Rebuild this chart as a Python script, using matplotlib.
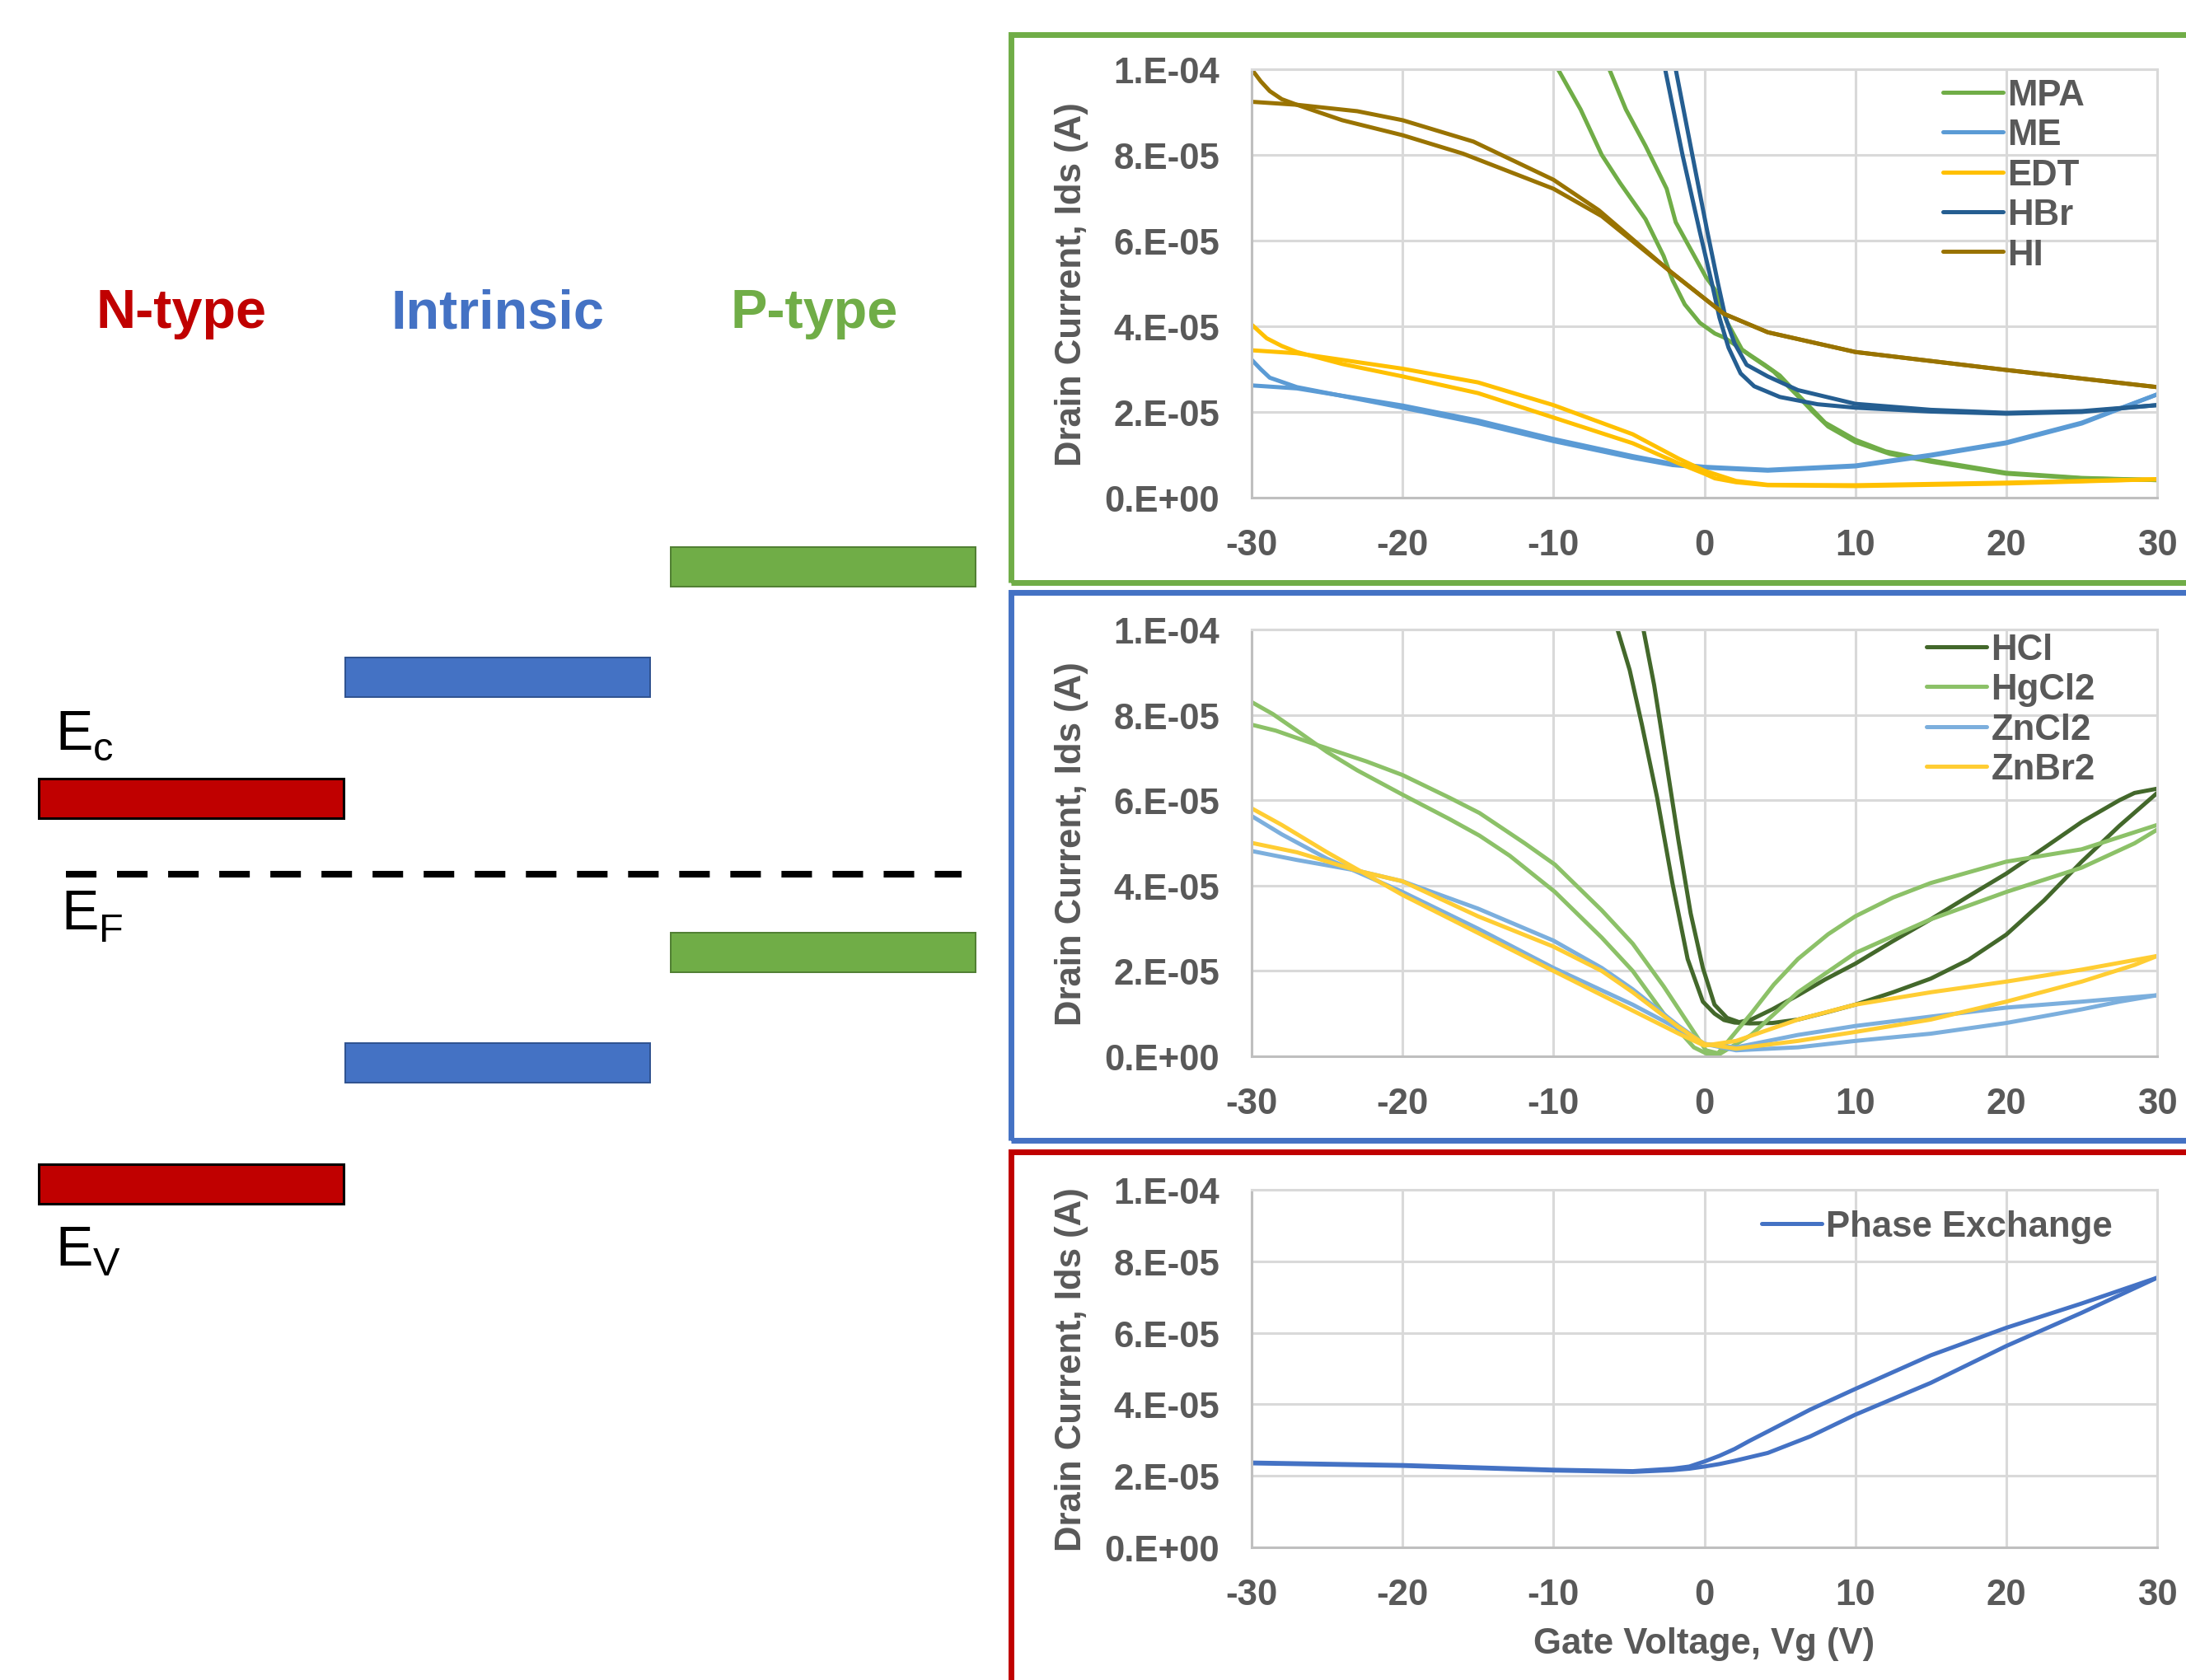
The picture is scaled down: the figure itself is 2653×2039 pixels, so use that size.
import numpy as np
import matplotlib
matplotlib.use("Agg")
import matplotlib.pyplot as plt
from matplotlib.patches import Rectangle
from matplotlib.ticker import FuncFormatter, MultipleLocator

W, H, DPI = 2653, 2040, 100

# ---------------- transfer curves: gate voltage (V) / drain current (uA) ----------------
# Each treatment was swept twice (forward and reverse), giving two branches.

# P-type ligands
MPA_VG_A = [-9.7, -8.2, -6.8, -5.6, -3.9, -2.7, -2.1, -1.3, -0.3, 0.7, 1.3, 2.2, 3.1, 4.6, 6.2, 7.2, 8.2, 10, 12.3, 15, 20, 25, 30]
MPA_ID_A = [100, 90.6, 80.0, 73.5, 65.0, 56.4, 50.7, 45.1, 40.8, 38.3, 37.4, 35.3, 33.0, 29.4, 23.7, 20.0, 16.6, 13.0, 10.2, 8.4, 5.6, 4.5, 4.1]
MPA_VG_B = [-6.3, -5.2, -3.9, -3.1, -2.5, -1.9, -0.9, 0.1, 0.7, 1.5, 2.5, 4.0, 5.0, 6.2, 8.0, 10, 12, 15, 20, 25, 30]
MPA_ID_B = [100, 90.6, 82.1, 76.4, 72.1, 64.3, 57.9, 51.5, 48.6, 41.0, 34.5, 31.0, 28.5, 24.0, 17.5, 13.5, 10.8, 8.7, 5.8, 4.6, 4.1]

ME_VG_A = [-30, -29.4, -28.8, -27, -20, -15, -10, -4.75, -2.1, 0, 4.2, 10, 15, 20, 25, 30]
ME_ID_A = [32.2, 30.0, 28.0, 25.8, 21.0, 17.4, 13.2, 9.3, 7.6, 7.0, 6.3, 7.3, 9.8, 12.7, 17.3, 24.1]
ME_VG_B = [-30, -27, -20, -15, -10, -4.75, -2.1, 0, 4.2, 10, 15, 20, 25, 30]
ME_ID_B = [26.2, 25.5, 21.5, 18.0, 13.7, 9.7, 7.9, 7.2, 6.5, 7.5, 10.0, 12.9, 17.5, 24.1]

EDT_VG_A = [-30, -29, -28, -27, -24, -20, -15, -10, -4.75, -1.7, 0, 0.7, 2.1, 4.2, 10, 20, 30]
EDT_ID_A = [40.4, 37.2, 35.4, 34.0, 31.2, 28.3, 24.4, 18.7, 12.7, 8.0, 5.6, 4.5, 3.6, 2.9, 2.7, 3.3, 4.3]
EDT_VG_B = [-30, -27, -20, -15, -10, -4.75, -1.7, 0, 2.1, 4.2, 10, 20, 30]
EDT_ID_B = [34.4, 33.7, 30.1, 26.9, 21.6, 14.8, 9.1, 6.3, 3.9, 3.0, 2.9, 3.5, 4.3]

HBR_VG_A = [-2.6, -1.45, -0.3, 0.5, 1.0, 1.6, 2.4, 3.3, 5, 7.5, 10, 15, 20, 25, 30]
HBR_ID_A = [100, 80, 62, 50, 42, 35, 29, 26, 23.5, 21.8, 21.0, 20.1, 19.6, 20.0, 21.6]
HBR_VG_B = [-1.9, -0.8, 0.2, 0.9, 1.4, 2.0, 2.8, 4.2, 6.2, 10, 15, 20, 25, 30]
HBR_ID_B = [100, 80, 62, 50, 42, 36, 31, 28.3, 25.1, 21.9, 20.5, 19.8, 20.2, 21.6]

HI_VG_A = [-30, -29.4, -28.8, -28, -27, -24, -20, -16, -10, -6.8, -2.3, 0, 1.3, 4.2, 10, 20, 30]
HI_ID_A = [100, 97.2, 94.9, 93.0, 91.7, 88.1, 84.6, 80.3, 72.1, 65.7, 52.9, 46.5, 42.9, 38.6, 34.0, 29.8, 25.8]
HI_VG_B = [-30, -27, -23, -20, -15.3, -10, -7, -2.3, 0, 1.3, 4.2, 10, 20, 30]
HI_ID_B = [92.4, 91.7, 90.2, 88.1, 83.1, 74.2, 67.1, 52.9, 46.5, 42.9, 38.6, 34.0, 29.8, 25.8]

# Ambipolar (intrinsic) treatments
HCL_VG_A = [-5.76, -4.95, -4.14, -3.13, -2.12, -1.11, -0.1, 0.67, 1.3, 2.0, 3.0, 4.5, 6.2, 8, 10, 12.5, 15, 17.5, 20, 22.5, 25, 27.5, 30]
HCL_ID_A = [100, 90.5, 77.7, 60.6, 40.6, 22.8, 12.8, 10.0, 8.5, 7.9, 7.7, 7.8, 8.6, 10.2, 12.1, 15.0, 18.2, 22.6, 28.5, 36.5, 45.6, 54.0, 61.7]
HCL_VG_B = [-4.04, -3.33, -2.53, -1.72, -0.91, -0.1, 0.67, 1.5, 2.3, 3.1, 4.5, 6.2, 8, 10, 12.5, 15, 17.5, 20, 22.5, 25, 27.5, 28.5, 30]
HCL_ID_B = [100, 87.0, 69.1, 50.6, 33.5, 20.7, 12.1, 9.0, 8.0, 8.6, 11.0, 14.3, 18.0, 21.7, 27.0, 32.1, 37.5, 42.8, 48.8, 54.9, 60.0, 61.7, 62.7]

HGCL2_VG_A = [-30, -28.6, -27, -25, -23, -20, -16.9, -14.9, -12.9, -9.9, -6.8, -4.75, -2.7, -0.7, 0.1, 0.9, 3.1, 6.2, 10, 15, 20, 25, 28.5, 30]
HGCL2_ID_A = [83.0, 80.2, 76.3, 71.3, 67.0, 61.3, 55.6, 51.7, 47.0, 38.5, 27.8, 20.0, 10.0, 2.1, 0.7, 0.3, 5.0, 15.0, 24.2, 32.1, 38.5, 44.2, 49.9, 53.1]
HGCL2_VG_B = [-30, -28.4, -25.8, -22.4, -20, -16.9, -14.9, -11.9, -9.9, -6.8, -4.75, -2.7, -0.7, 0.1, 0.9, 3.1, 4.6, 6.2, 8.2, 10, 12.5, 15, 20, 25, 30]
HGCL2_ID_B = [77.7, 76.3, 73.1, 69.1, 65.9, 60.6, 57.0, 49.9, 44.9, 34.2, 26.4, 16.4, 5.7, 1.4, 0.7, 10.0, 16.8, 22.8, 28.6, 32.8, 37.2, 40.6, 45.6, 48.5, 54.2]

ZNCL2_VG_A = [-30, -28, -25, -20, -15, -10, -4.75, -1.7, 0, 2.1, 6.2, 10, 15, 20, 25, 30]
ZNCL2_ID_A = [56.3, 52.0, 46.3, 38.5, 29.9, 20.7, 12.1, 6.4, 2.9, 2.1, 5.0, 7.1, 9.3, 11.4, 12.8, 14.3]
ZNCL2_VG_B = [-30, -27, -23, -20, -15, -10, -6.8, -4.75, -1.7, 0, 2.1, 6.2, 10, 15, 20, 25, 27.5, 30]
ZNCL2_ID_B = [48.1, 46.0, 43.5, 41.0, 34.6, 27.1, 20.7, 15.7, 7.1, 2.9, 1.4, 2.1, 3.6, 5.3, 7.8, 11.0, 12.8, 14.3]

ZNBR2_VG_A = [-30, -28, -25, -20, -15, -10, -4.75, -1.7, 0, 2.1, 6.2, 10, 15, 20, 25, 30]
ZNBR2_ID_A = [58.1, 54.2, 47.8, 37.8, 28.9, 20.0, 10.7, 5.3, 2.5, 3.6, 8.6, 12.1, 15.0, 17.5, 20.3, 23.5]
ZNBR2_VG_B = [-30, -27, -23, -20, -15, -10, -6.8, -4.75, -1.7, 0, 2.1, 6.2, 10, 15, 20, 25, 28.5, 30]
ZNBR2_ID_B = [50.0, 47.8, 43.5, 41.0, 32.8, 25.7, 20.0, 15.0, 6.8, 2.9, 1.8, 3.6, 5.7, 8.6, 12.8, 17.5, 21.4, 23.5]

# N-type (phase exchange)
PE_VG_A = [-30, -20, -10, -4.75, -2.1, -1, 0, 1, 2, 3, 4.2, 7, 10, 15, 20, 25, 30]
PE_ID_A = [23.7, 23.0, 21.7, 21.3, 22.0, 22.6, 24.0, 25.6, 27.5, 29.8, 32.4, 38.5, 44.3, 53.7, 61.4, 68.2, 75.4]
PE_VG_B = [-30, -20, -10, -4.75, -2.1, -1, 0, 1, 2, 3, 4.2, 7, 10, 15, 20, 25, 30]
PE_ID_B = [23.5, 22.8, 21.5, 21.1, 21.6, 22.0, 22.6, 23.3, 24.2, 25.2, 26.4, 31.0, 37.1, 46.0, 56.3, 65.6, 75.4]

# ---------------- band diagram: levels relative to E_F, in units of the band gap ----------------
DOPING_TYPES = ["N-type", "Intrinsic", "P-type"]
CONDUCTION_LEVELS = [0.196, 0.510, 0.797]
VALENCE_LEVELS = [-0.804, -0.490, -0.203]
FERMI_LEVEL = 0.0

# ---------------- styling ----------------
RED, BLUE, GREEN = "#C00000", "#4472C4", "#70AD47"
TYPE_COLORS = [RED, BLUE, GREEN]
TYPE_EDGES = ["#000000", "#2F528F", "#507E32"]
TEXT_GRAY = "#595959"
GRID_GRAY = "#D9D9D9"
AXIS_GRAY = "#BFBFBF"
LW = 3.6
FONT = "Liberation Sans"
FS = 31.5

plt.rcParams["font.family"] = [FONT, "DejaVu Sans"]
plt.rcParams["axes.unicode_minus"] = False

fig = plt.figure(figsize=(W / DPI, H / DPI), dpi=DPI, facecolor="white")


def fx(px):
    return px / W


def fy(py):
    return 1 - py / H


# ---------------- coloured frames around the three panels ----------------
for top, bottom, col in [(43, 708, GREEN), (720, 1385, BLUE), (1399, 2200, RED)]:
    fig.add_artist(Rectangle((fx(1227), fy(bottom)), fx(1600), (bottom - top) / H,
                             transform=fig.transFigure, fill=False,
                             edgecolor=col, linewidth=5.0, clip_on=False))


def sci_label(v, pos):
    s = f"{v:.0E}"
    return s[0] + "." + s[1:]


def make_panel(top_px, bottom_px):
    ax = fig.add_axes([fx(1519), fy(bottom_px), (2618 - 1519) / W, (bottom_px - top_px) / H])
    ax.set_xlim(-30, 30)
    ax.set_ylim(0, 1e-4)
    ax.xaxis.set_major_locator(MultipleLocator(10))
    ax.yaxis.set_major_locator(MultipleLocator(2e-5))
    ax.yaxis.set_major_formatter(FuncFormatter(sci_label))
    ax.set_axisbelow(True)
    ax.grid(True, color=GRID_GRAY, linewidth=2.2)
    for side in ["top", "right"]:
        ax.spines[side].set_color(GRID_GRAY)
        ax.spines[side].set_linewidth(2.2)
    for side in ["left", "bottom"]:
        ax.spines[side].set_color(AXIS_GRAY)
        ax.spines[side].set_linewidth(2.2)
    ax.tick_params(axis="both", length=0, labelsize=FS, labelcolor=TEXT_GRAY)
    ax.tick_params(axis="y", pad=28)
    ax.tick_params(axis="x", pad=27)
    for lab in ax.get_xticklabels() + ax.get_yticklabels():
        lab.set_fontweight("bold")
    ax.set_ylabel("Drain Current, Ids (A)", fontsize=FS, fontweight="bold",
                  color=TEXT_GRAY, va="center")
    ax.yaxis.set_label_coords(-0.199, 0.5)
    return ax


def draw_series(ax, name, color, vg_a, id_a, vg_b, id_b):
    ax.plot(vg_a, np.array(id_a) * 1e-6, color=color, lw=LW, label=name,
            solid_joinstyle="round", solid_capstyle="round")
    ax.plot(vg_b, np.array(id_b) * 1e-6, color=color, lw=LW, label="_nolegend_",
            solid_joinstyle="round", solid_capstyle="round")


def add_legend(ax, handle_left_px, first_row_px):
    leg = ax.legend(loc="upper left",
                    bbox_to_anchor=(fx(handle_left_px), fy(first_row_px - 16)),
                    bbox_transform=fig.transFigure, frameon=False,
                    borderpad=0, borderaxespad=0, handlelength=1.67,
                    handletextpad=0.12, labelspacing=0.17,
                    prop={"family": FONT, "weight": "bold", "size": FS})
    for t in leg.get_texts():
        t.set_color(TEXT_GRAY)
    return leg


# Top panel: p-type ligand exchange
ax_top = make_panel(85, 605)
draw_series(ax_top, "MPA", "#70AD47", MPA_VG_A, MPA_ID_A, MPA_VG_B, MPA_ID_B)
draw_series(ax_top, "ME", "#5B9BD5", ME_VG_A, ME_ID_A, ME_VG_B, ME_ID_B)
draw_series(ax_top, "EDT", "#FFC000", EDT_VG_A, EDT_ID_A, EDT_VG_B, EDT_ID_B)
draw_series(ax_top, "HBr", "#255E91", HBR_VG_A, HBR_ID_A, HBR_VG_B, HBR_ID_B)
draw_series(ax_top, "HI", "#997300", HI_VG_A, HI_ID_A, HI_VG_B, HI_ID_B)
add_legend(ax_top, 2358, 112)

# Middle panel: ambipolar treatments
ax_mid = make_panel(765, 1283)
draw_series(ax_mid, "HCl", "#43682B", HCL_VG_A, HCL_ID_A, HCL_VG_B, HCL_ID_B)
draw_series(ax_mid, "HgCl2", "#8CC168", HGCL2_VG_A, HGCL2_ID_A, HGCL2_VG_B, HGCL2_ID_B)
draw_series(ax_mid, "ZnCl2", "#7CAFDD", ZNCL2_VG_A, ZNCL2_ID_A, ZNCL2_VG_B, ZNCL2_ID_B)
draw_series(ax_mid, "ZnBr2", "#FFCD33", ZNBR2_VG_A, ZNBR2_ID_A, ZNBR2_VG_B, ZNBR2_ID_B)
add_legend(ax_mid, 2338, 785)

# Bottom panel: n-type phase exchange
ax_bot = make_panel(1445, 1879)
draw_series(ax_bot, "Phase Exchange", "#4472C4", PE_VG_A, PE_ID_A, PE_VG_B, PE_ID_B)
add_legend(ax_bot, 2138, 1485)
ax_bot.set_xlabel("Gate Voltage, Vg (V)", fontsize=FS, fontweight="bold",
                  color=TEXT_GRAY, va="center")
ax_bot.xaxis.set_label_coords(0.5, -0.268)

# ---------------- band diagram ----------------
EF_PX, GAP_PX = 1061.5, 468.0
ax_band = fig.add_axes([0, 0, fx(1220), 1])
ax_band.set_xlim(0, 1220)
ax_band.set_ylim((EF_PX - H) / GAP_PX, EF_PX / GAP_PX)
ax_band.axis("off")

bar_lefts = [47, 419, 814]
bar_width = 370
bar_h = 48 / GAP_PX
for i in range(len(DOPING_TYPES)):
    for level in (CONDUCTION_LEVELS[i], VALENCE_LEVELS[i]):
        ax_band.bar(bar_lefts[i], bar_h, bottom=level - bar_h / 2, width=bar_width,
                    align="edge", color=TYPE_COLORS[i], edgecolor=TYPE_EDGES[i],
                    linewidth=2.2 if i == 0 else 1.4)

ax_band.hlines(FERMI_LEVEL, 80, 1167, colors="black", linewidth=5.8,
               linestyles=(0, (4.6, 3.1)), capstyle="butt")

for name, col, cx in zip(DOPING_TYPES, TYPE_COLORS, [220, 604, 988]):
    fig.text(fx(cx), fy(398.5), name, ha="center", va="baseline", fontsize=48,
             fontweight="bold", color=col, family=FONT)

for sub, base_px, sub_base_px, x0 in [("c", 910, 923, 67), ("F", 1128, 1143, 74), ("V", 1536, 1548, 67)]:
    fig.text(fx(x0), fy(base_px), "E", ha="left", va="baseline", fontsize=49,
             color="black", family=FONT)
    fig.text(fx(x0 + 46), fy(sub_base_px), sub, ha="left", va="baseline", fontsize=35,
             color="black", family=FONT)

fig.savefig("out.png", dpi=DPI, facecolor="white")
